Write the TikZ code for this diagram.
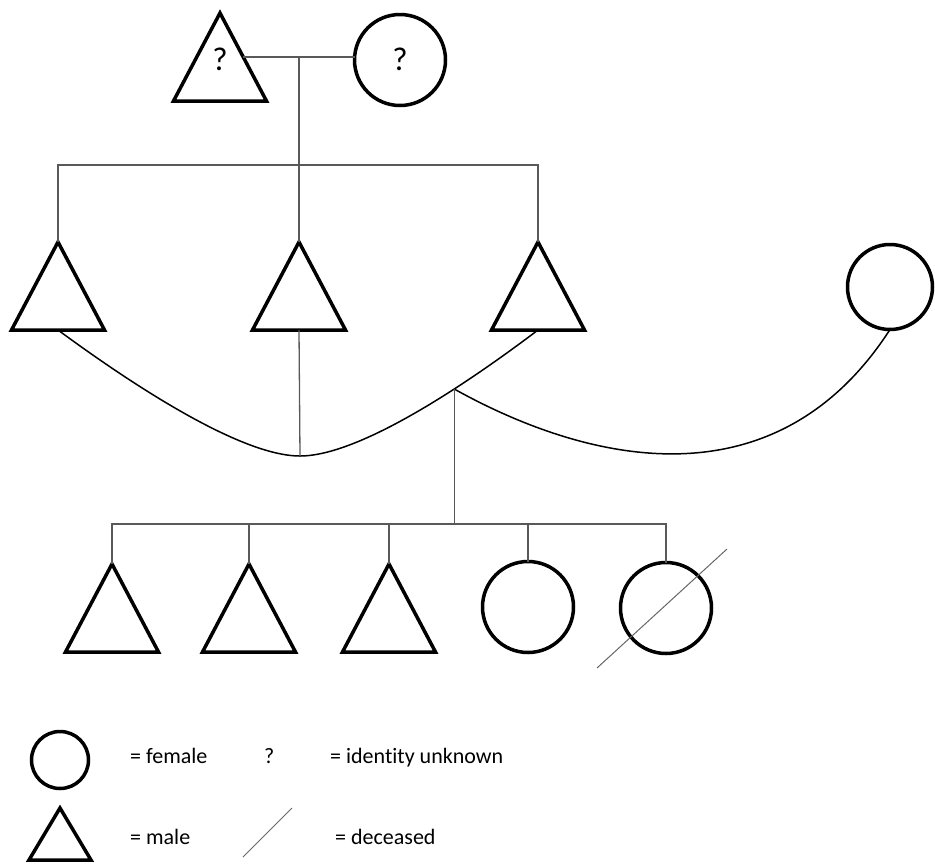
\documentclass[tikz,border=0pt]{standalone}
\usepackage{fontspec}
\setmainfont{Carlito}[Ligatures=NoCommon]
\usetikzlibrary{calc}
\begin{document}
\begin{tikzpicture}[x=1pt,y=-1pt,
  male/.style={minimum width=93pt, minimum height=88pt, inner sep=0pt, outer sep=0pt,
    append after command={\pgfextra{\draw[line width=3.5pt,line join=miter] (\tikzlastnode.north) -- (\tikzlastnode.south west) -- (\tikzlastnode.south east) -- cycle;}}},
  smallmale/.style={male, minimum width=62pt, minimum height=52pt},
  female/.style={circle, draw, line width=3.5pt, minimum size=91pt, inner sep=0pt, outer sep=0pt},
  conn/.style={draw=black!65, line width=1.3pt},
  curveline/.style={draw=black, line width=1.5pt},
  slash/.style={draw=black!60, line width=1pt},
  lbl/.style={anchor=base west, inner sep=0pt, font=\fontsize{22}{26}\selectfont},
  qm/.style={inner sep=0pt, font=\fontsize{33}{38}\selectfont}
]
\useasboundingbox (0,0) rectangle (935,863);
% generation 1
\node[male] (T0) at (220,57) {};
\node[female] (F0) at (400,60) {};
\node[qm] (q1) at (220,59) {?};
\node[qm] (q2) at (400,59) {?};
% generation 2
\node[male] (M1) at (58,286) {};
\node[male] (M2) at (299,286) {};
\node[male] (M3) at (538,286) {};
\node[female, minimum size=85pt] (RF) at (890,287) {};
% generation 3
\node[male] (C1) at (112,608) {};
\node[male] (C2) at (249,608) {};
\node[male] (C3) at (389,608) {};
\node[female] (C4) at (528,607) {};
\node[female] (C5) at (666,608) {};
% marriage line
\coordinate (mar) at ($(T0.north)!0.5!(T0.south east)$);
\coordinate (mare) at (mar -| F0.west);
\coordinate (mc) at ($(mar)!0.5!(mare)$);
\coordinate (sib) at (300,165);
\draw[conn] (mar) -- (mare);
\draw[conn] (mc) -- (mc |- sib);
\draw[conn] (M1.north) -- (M1.north |- sib) -- (M3.north |- sib) -- (M3.north);
\draw[conn] (M2.north |- sib) -- (M2.north);
% big curve
\draw[curveline] (M1.south) .. controls (130,383) and (240,456) .. (300,456) coordinate (low)
  .. controls (360,456) and (468,383) .. (M3.south) coordinate[pos=0.65] (br);
\draw[conn] (M2.south) -- (low);
\draw[curveline] (br) .. controls (600,470) and (780,500) .. (RF.south);
% children
\coordinate (kids) at (456,524);
\draw[conn] (br) -- (br |- kids);
\draw[conn] (C1.north) -- (C1.north |- kids) -- (C5.north |- kids) -- (C5.north);
\draw[conn] (C2.north |- kids) -- (C2.north);
\draw[conn] (C3.north |- kids) -- (C3.north);
\draw[conn] (C4.north |- kids) -- (C4.north);
% deceased slash
\draw[slash] ($(C5.center)+(-69,60)$) -- ($(C5.center)+(61,-59)$);
% legend
\node[female, minimum size=57pt] (LF) at (60,760) {};
\node[smallmale] (LM) at (60,834) {};
\node[lbl] (t1) at (130,763) {= female};
\node[lbl] (t2) at (264,763) {?};
\node[lbl] (t3) at (330,763) {= identity unknown};
\node[lbl] (t4) at (130,844) {= male};
\node[lbl] (t5) at (335,844) {= deceased};
\coordinate (s1) at (243,857);
\coordinate (s2) at (292,808);
\draw[slash] (s1) -- (s2);
\end{tikzpicture}
\end{document}
